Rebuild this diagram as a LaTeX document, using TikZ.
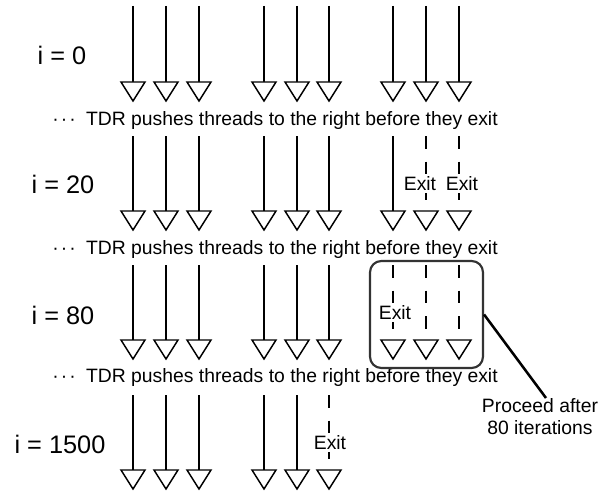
\documentclass[tikz,border=0pt]{standalone}
\usepackage{fontspec}
\setmainfont{Liberation Sans}
\begin{document}
\begin{tikzpicture}[x=0.75pt,y=-0.75pt,
  thread/.style={line width=1.1pt},
  exited/.style={line width=1.1pt, dash pattern=on 9.4pt off 9.8pt},
  tip/.style={line width=1.1pt, fill=white, line join=miter},
  tri/.pic={\draw[tip] (-12,0) -- (12,0) -- (0,19) -- cycle;},
  iter/.style={font=\fontsize{19}{22}\selectfont, inner sep=0pt},
  note/.style={font=\fontsize{14.5}{16.5}\selectfont, inner sep=0pt},
  exitlbl/.style={font=\fontsize{14.5}{16.5}\selectfont, fill=white, inner sep=1.5pt},
]
\useasboundingbox (0,0) rectangle (600,492);

% row 1 (i = 0)
\foreach \c/\x in {1/133,2/166,3/199,4/264,5/297,6/329,7/393,8/426,9/459}{
  \coordinate (sa\c) at (\x,6);
  \coordinate (ea\c) at (\x,82);
  \draw[thread] (sa\c) -- (ea\c);
  \pic at (ea\c) {tri};
}
% row 2 (i = 20)
\foreach \c/\x in {1/133,2/166,3/199,4/264,5/297,6/329,7/393}{
  \coordinate (sb\c) at (\x,136);
  \coordinate (eb\c) at (\x,211);
  \draw[thread] (sb\c) -- (eb\c);
}
\foreach \c/\x in {8/426,9/459}{
  \coordinate (sb\c) at (\x,136);
  \coordinate (eb\c) at (\x,211);
  \draw[exited] (sb\c) -- (eb\c);
}
\foreach \c in {1,...,9}{\pic at (eb\c) {tri};}
% row 3 (i = 80)
\foreach \c/\x in {1/133,2/166,3/199,4/264,5/297,6/329}{
  \coordinate (sc\c) at (\x,265);
  \coordinate (ec\c) at (\x,340);
  \draw[thread] (sc\c) -- (ec\c);
}
\foreach \c/\x in {7/393,8/426,9/459}{
  \coordinate (sc\c) at (\x,265);
  \coordinate (ec\c) at (\x,340);
  \draw[exited] (sc\c) -- (ec\c);
}
\foreach \c in {1,...,9}{\pic at (ec\c) {tri};}
% row 4 (i = 1500)
\foreach \c/\x in {1/133,2/166,3/199,4/264,5/297}{
  \coordinate (sd\c) at (\x,395);
  \coordinate (ed\c) at (\x,470);
  \draw[thread] (sd\c) -- (ed\c);
}
\coordinate (sd6) at (329,395);
\coordinate (ed6) at (329,470);
\draw[exited] (sd6) -- (ed6);
\foreach \c in {1,...,6}{\pic at (ed\c) {tri};}

% iteration labels
\node[iter] (i0) at (62,55) {i = 0};
\node[iter] (i20) at (63,184) {i = 20};
\node[iter] (i80) at (63,315) {i = 80};
\node[iter] (i1500) at (60,444) {i = 1500};

% TDR notes
\foreach \n/\y in {a/125,b/254,c/382}{
  \node[note, anchor=base west] (tdr\n) at (52,\y) {\textperiodcentered\hspace{1.6pt}\textperiodcentered\hspace{1.6pt}\textperiodcentered\hspace{7.7pt}TDR pushes threads to the right before they exit};
}

% exit labels
\node[exitlbl] (xb8) at (420,184) {Exit};
\node[exitlbl] (xb9) at (462,184) {Exit};
\node[exitlbl] (xc7) at (395,313) {Exit};
\node[exitlbl] (xd6) at (330,443) {Exit};

% box and callout
\node[draw=black!80, line width=1.6pt, rounded corners=8.5pt, minimum width=84.75pt, minimum height=80.25pt, inner sep=0pt] (box) at (426.5,314.5) {};
\node[note, align=center, anchor=north] (proceed) at (540,398) {Proceed after\\80 iterations};
\draw[line width=1.9pt] (box.east) -- ([xshift=4.5pt]proceed.north);
\end{tikzpicture}
\end{document}
